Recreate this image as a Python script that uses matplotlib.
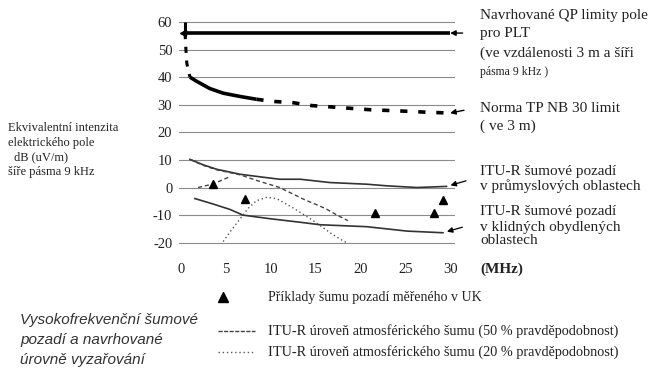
import matplotlib
matplotlib.use('Agg')
import matplotlib.pyplot as plt

W, H = 662, 369

# ---------------- data ----------------
y_ticks = [-20, -10, 0, 10, 20, 30, 40, 50, 60]
x_ticks = [0, 5, 10, 15, 20, 25, 30]
x_tick_labels = ['0', '5', '10', '15', '20', '25', '30']

# Proposed QP field limits for PLT
qp_x = [0.2, 30.0]
qp_y = [56.0, 56.0]

# NB30 limit (3 m)
nb30_x = [0.45, 0.45, 0.55, 0.65, 1.0, 1.75, 3.2, 4.7, 6.6, 8.4,
          10.3, 12.4, 14.6, 16.4, 18.5, 21.1, 24.1, 27.4, 30.0]
nb30_y = [60, 56, 50, 45, 40, 38.5, 35.9, 34.2, 33.0, 32.0,
          31.2, 30.8, 29.7, 29.3, 28.8, 28.2, 27.8, 27.3, 27.0]

# ITU-R noise floor, industrial areas
biz_x = [1.0, 2.5, 4.0, 6.6, 9.0, 11.0, 13.3, 16.6, 20.7, 23.0, 26.3, 29.6]
biz_y = [10.2, 8.2, 6.6, 4.8, 3.8, 3.0, 3.0, 1.8, 1.2, 0.6, 0.0, 0.4]

# ITU-R noise floor, quiet residential areas
rural_x = [1.55, 3.6, 5.5, 6.9, 9.9, 13.3, 15.5, 20.7, 25.2, 29.2]
rural_y = [-4.0, -6.0, -8.0, -10.0, -11.3, -12.6, -13.5, -14.2, -15.8, -16.4]

# ITU-R atmospheric noise 50 %
atm50_x = [1.0, 2.5, 4.0, 6.6, 8.5, 11.0, 13.7, 16.1, 17.5, 18.6]
atm50_y = [10.2, 8.0, 6.4, 4.6, 2.5, 0.0, -4.3, -7.6, -10.2, -12.0]

# ITU-R atmospheric noise 20 %
atm20_x = [4.7, 5.6, 6.6, 7.5, 8.4, 9.6, 10.7, 12.5, 14.5, 16.9, 18.1, 18.5]
atm20_y = [-19.6, -15.5, -11.3, -7.5, -4.8, -3.5, -4.1, -7.4, -11.5, -17.0, -19.4, -20.0]

# Measured UK background noise examples
uk_x = [3.6, 7.1, 21.6, 28.2, 29.2]
uk_y = [1.3, -4.0, -9.3, -9.3, -4.6]
uk_seg_x = [1.9, 3.6, 5.5]
uk_seg_y = [0.0, 1.3, 4.0]

# ---------------- figure ----------------
SERIF = ['Liberation Serif', 'DejaVu Serif']
TXT = '#222222'

fig = plt.figure(figsize=(W / 100, H / 100), dpi=100)
fig.patch.set_facecolor('white')

def fx(px):
    return px / W

def fy(py):
    return 1 - py / H

ax = fig.add_axes([fx(179.2), fy(248.2), fx(454.6) - fx(179.2), fy(16.5) - fy(248.2)])
ax.set_xlim(-0.2, 30.5)
ax.set_ylim(-22, 62)
for s in ax.spines.values():
    s.set_visible(False)
ax.set_yticks(y_ticks)
ax.set_yticklabels([str(v) for v in y_ticks], family=SERIF, fontsize=10.5, color=TXT)
ax.set_xticks(x_ticks)
ax.set_xticklabels(x_tick_labels, family=SERIF, fontsize=10.5, color=TXT)
ax.tick_params(axis='y', length=0, pad=5)
ax.tick_params(axis='x', length=0, pad=11)
ax.grid(axis='y', color='#8a8a8a', lw=0.8)
ax.set_axisbelow(True)

# QP limit
ax.plot(qp_x, qp_y, color='black', lw=2.6, solid_capstyle='butt')
ax.plot(qp_x[:1], qp_y[:1], marker='<', color='black', markersize=4)
ax.annotate('', xy=(qp_x[-1], qp_y[-1]), xytext=(9, 0), textcoords='offset points',
            arrowprops=dict(arrowstyle='-|>', color='black', lw=1.0, mutation_scale=8,
                            shrinkA=0, shrinkB=0), annotation_clip=False)

# NB30
ax.plot(nb30_x[0:2], nb30_y[0:2], color='black', lw=2.2, solid_capstyle='butt')
ax.plot(nb30_x[1:5], nb30_y[1:5], color='black', lw=2.2, linestyle=(0, (2, 2.5)))
ax.plot(nb30_x[4:10], nb30_y[4:10], color='black', lw=2.6, solid_capstyle='butt')
ax.plot(nb30_x[9:], nb30_y[9:], color='black', lw=2.6, linestyle=(0, (2, 3)))
ax.annotate('', xy=(nb30_x[-1], nb30_y[-1]), xytext=(10, 2), textcoords='offset points',
            arrowprops=dict(arrowstyle='-|>', color='black', lw=1.0, mutation_scale=8,
                            shrinkA=0, shrinkB=0), annotation_clip=False)

# ITU-R lines
ax.plot(biz_x, biz_y, color='#333333', lw=1.2)
ax.plot(rural_x, rural_y, color='#333333', lw=1.2)
ax.plot(atm50_x, atm50_y, color='#444444', lw=1.0, linestyle=(0, (3, 2)))
ax.plot(atm20_x, atm20_y, color='#555555', lw=1.0, linestyle=(0, (1, 2)))
ax.plot(uk_seg_x, uk_seg_y, color='#444444', lw=1.0, linestyle=(0, (3, 2)))
ax.plot(uk_x, uk_y, linestyle='none', marker='^', color='black', markersize=5.5, clip_on=False)

for xs, ys in ((biz_x, biz_y), (rural_x, rural_y)):
    ax.annotate('', xy=(xs[-1], ys[-1]), xytext=(14, 4), textcoords='offset points',
                arrowprops=dict(arrowstyle='-|>', color='black', lw=0.9, mutation_scale=8,
                                shrinkA=0, shrinkB=3), annotation_clip=False)

# ---------------- texts ----------------
def t(px, py, s, size=11, **kw):
    kw.setdefault('family', SERIF)
    kw.setdefault('color', TXT)
    fig.text(fx(px), fy(py), s, fontsize=size, ha=kw.pop('ha', 'left'), va=kw.pop('va', 'center'), **kw)

t(480, 15, 'Navrhované QP limity pole')
t(480, 34, 'pro PLT')
t(480, 53, '(ve vzdálenosti 3 m a šíři')
t(480, 72, 'pásma 9 kHz )', size=8.5)
t(480, 109, 'Norma TP NB 30 limit')
t(480, 126, '( ve 3 m)')
t(480, 171, 'ITU-R šumové pozadí')
t(480, 186, 'v průmyslových oblastech')
t(480, 212, 'ITU-R šumové pozadí')
t(480, 227, 'v klidných obydlených')
t(480, 241, 'oblastech')
t(480, 269, '(MHz)', weight='bold')

t(8, 128, 'Ekvivalentní intenzita', size=9)
t(8, 143, 'elektrického pole', size=9)
t(14, 157, 'dB (uV/m)', size=9)
t(8, 172, 'šíře pásma 9 kHz', size=9)

# bottom legend
lax = fig.add_axes([0, 0, 1, 1])
lax.set_xlim(0, W)
lax.set_ylim(H, 0)
lax.axis('off')
lax.plot([223], [297], marker='^', color='black', markersize=7)
lax.plot([218, 255], [331, 331], color='#444444', lw=1.0, linestyle=(0, (3, 1)))
lax.plot([218, 255], [352, 352], color='#555555', lw=1.0, linestyle=(0, (1, 2)))
t(268, 297, 'Příklady šumu pozadí měřeného v UK', size=10)
t(268, 331, 'ITU-R úroveň atmosférického šumu (50 % pravděpodobnost)', size=10.3)
t(268, 352, 'ITU-R úroveň atmosférického šumu (20 % pravděpodobnost)', size=10.3)

CAP = ['Liberation Sans', 'DejaVu Sans']
for py, s in ((320, 'Vysokofrekvenční šumové'), (340, 'pozadí a navrhované'), (360, 'úrovně vyzařování')):
    t(20, py, s, size=11, family=CAP, style='italic', color='#333333')

fig.savefig('out.png', dpi=100, facecolor='white')
